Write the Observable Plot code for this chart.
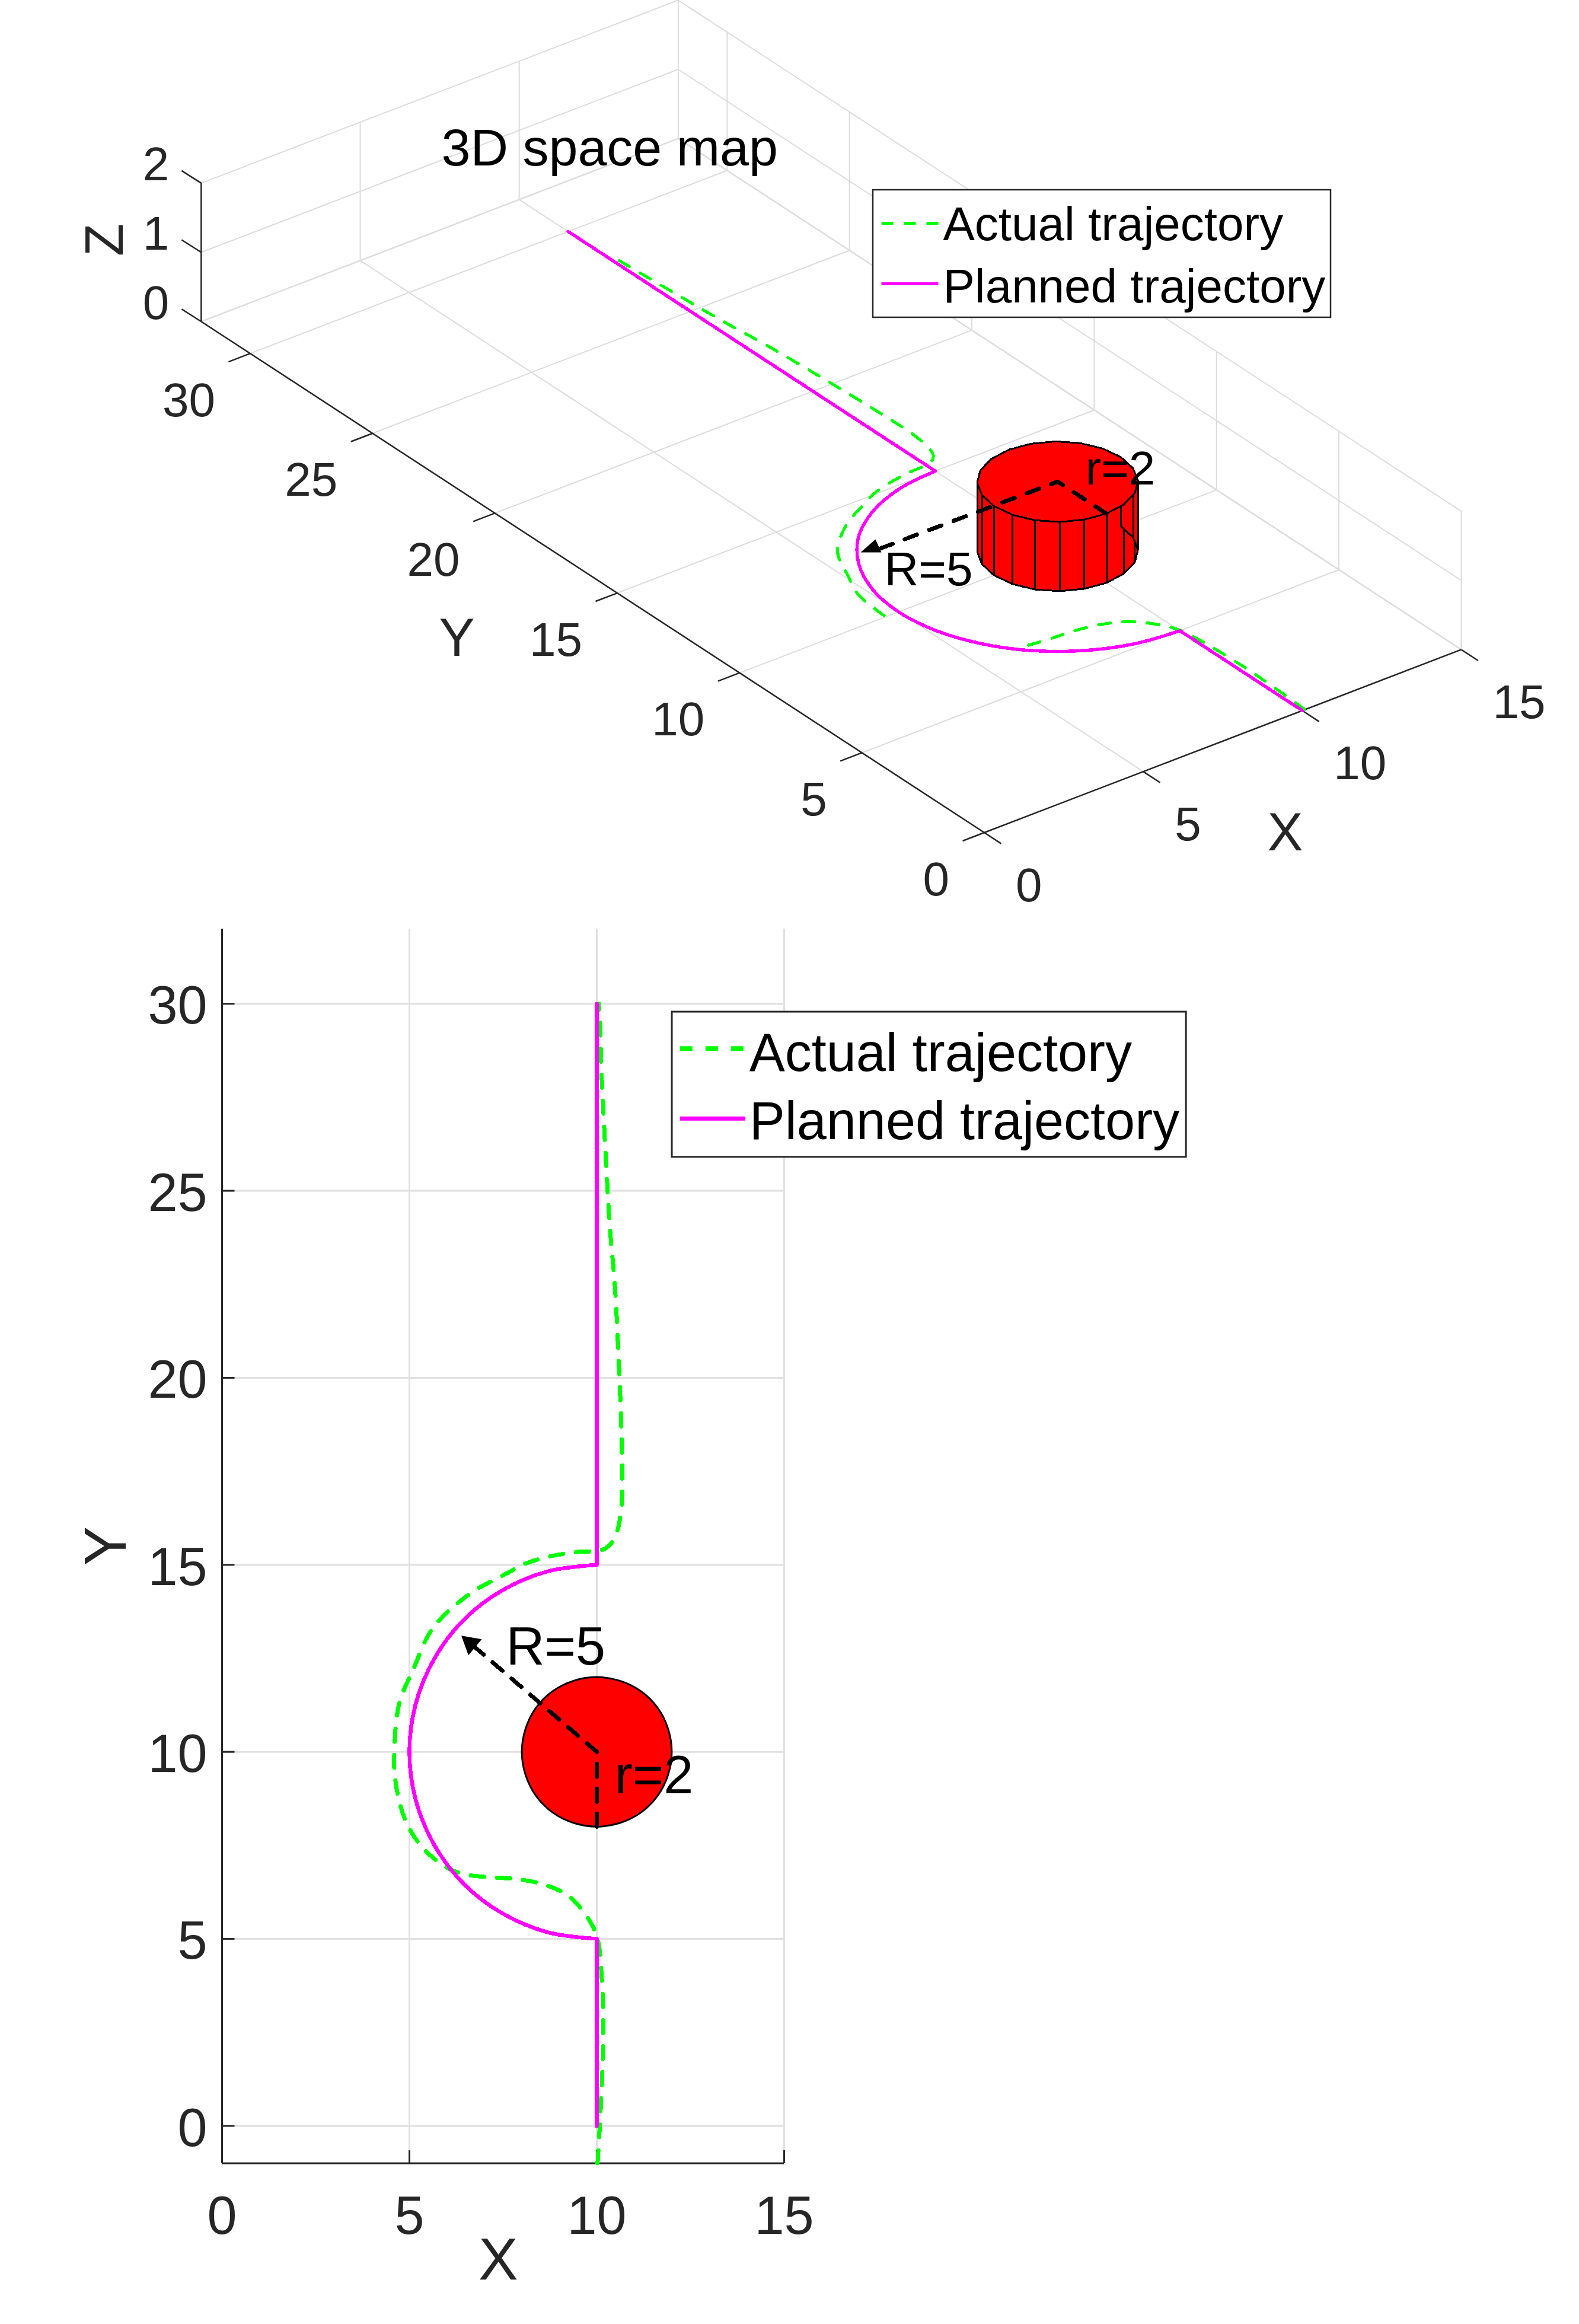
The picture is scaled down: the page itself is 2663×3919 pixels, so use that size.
<!DOCTYPE html>
<html><head><meta charset="utf-8">
<script src="https://cdn.jsdelivr.net/npm/d3@7"></script>
<script src="https://cdn.jsdelivr.net/npm/@observablehq/plot@0.6"></script>
<style>html,body{margin:0;padding:0;background:#fff;overflow:hidden}svg{display:block}</style>
</head><body><div id="chart3d"></div><div id="chart2d"></div>
<script>
const FONT = "Liberation Sans, Arial, sans-serif";
const xTicks = [0,5,10,15], yTicks = [0,5,10,15,20,25,30], zTicks = [0,1,2];
// actual trajectory
const actualX = [10.02,10.08,10.15,10.17,10.13,10.02,9.77,9.24,8.6,7.85,7.1,6.37,5.85,5.3,4.88,4.63,4.6,4.73,5.1,5.62,6.58,7.65,8.09,8.77,9.46,10.17,10.42,10.56,10.66,10.68,10.64,10.57,10.48,10.35,10.25,10.15,10.12,10.08,10.05];
const actualY = [-1,0,1.5,2.7,4,5,5.55,6.15,6.45,6.6,6.65,6.75,7,7.5,8.2,9.2,10.07,11.3,12.2,13.3,14.2,14.8,15.03,15.23,15.34,15.41,15.62,15.95,16.6,17.4,19.1,20.8,22.5,24,25.7,27.65,28.3,29.6,30];
// planned trajectory: upper straight, semicircle R=5, lower straight
const planLineX = [10,10], planUpperY = [30,15], planLowerY = [5,0];
const arcX = [10,8.71,7.5,6.46,5.67,5.17,5,5.17,5.67,6.46,7.5,8.71,10];
const arcY = [15,14.83,14.33,13.54,12.5,11.29,10,8.71,7.5,6.46,5.67,5.17,5];
// obstacle: 20-facet cylinder r=2 around (10,10), height 1
const cylX = [12,11.9,11.62,11.18,10.62,10,9.38,8.82,8.38,8.1,8,8.1,8.38,8.82,9.38,10,10.62,11.18,11.62,11.9];
const cylY = [10,10.62,11.18,11.62,11.9,12,11.9,11.62,11.18,10.62,10,9.38,8.82,8.38,8.1,8,8.1,8.38,8.82,9.38];
const legendNames = ["Actual trajectory","Planned trajectory"];
const GREEN="#00ff00", MAGENTA="#ff00ff", AXIS="#262626", CRISP="crispEdges";

const pts = (xs,ys,s)=>xs.map((x,i)=>({X:x,Y:ys[i],s}));
const actual = pts(actualX,actualY,"a");
const planned = [...pts(planLineX,planUpperY,"u"),...pts(arcX,arcY,"c"),...pts(planLineX,planLowerY,"l")];
const cyl = cylX.map((x,i)=>({X:x,Y:cylY[i]}));

// ---------- 3D view ----------
const H1 = 1530;
const px = (X,Y)=>1659.5+53.63*X-41.27*Y;
const py = (X,Y,Z=0)=>1403.5-20.57*X-26.93*Y-116.7*Z;
const xp = d=>px(d.X,d.Y), yp = d=>py(d.X,d.Y,d.Z||0);
const XMAX=15, YMAX=32, ZMAX=2;
const seg=(a,b)=>({x1:px(a[0],a[1]),y1:py(...a),x2:px(b[0],b[1]),y2:py(...b)});
const grid3=[];
for(const x of xTicks){ grid3.push(seg([x,0,0],[x,YMAX,0]), seg([x,YMAX,0],[x,YMAX,ZMAX])); }
for(const y of yTicks){ grid3.push(seg([0,y,0],[XMAX,y,0]), seg([XMAX,y,0],[XMAX,y,ZMAX])); }
grid3.push(seg([0,YMAX,0],[XMAX,YMAX,0]), seg([XMAX,0,0],[XMAX,YMAX,0]));
for(const z of zTicks){ grid3.push(seg([0,YMAX,z],[XMAX,YMAX,z]), seg([XMAX,YMAX,z],[XMAX,0,z])); }
const axes3=[seg([0,0,0],[XMAX,0,0]),seg([0,0,0],[0,YMAX,0]),seg([0,YMAX,0],[0,YMAX,ZMAX])];
const ticks3=[
 ...xTicks.map(x=>seg([x,0,0],[x,-0.69,0])),
 ...yTicks.map(y=>seg([0,y,0],[-0.68,y,0])),
 ...zTicks.map(z=>({x1:px(0,YMAX),y1:py(0,YMAX,z),x2:px(0,YMAX)-33,y2:py(0,YMAX,z)-21}))
];
const facets = cyl.flatMap((d,i)=>{const e=cyl[(i+1)%cyl.length];return [
  {...d,Z:0,f:i},{...e,Z:0,f:i},{...e,Z:1,f:i},{...d,Z:1,f:i},{...d,Z:0,f:i}];});
const cylTop = cyl.map(d=>({...d,Z:1}));
// the 3D view shows the actual trajectory only where it is not hidden by the planned one
const actual3d = actual.filter(d=>d.Y>=0 && d.Y<=28.5 && !(d.Y>6.8 && d.Y<10)).map(d=>({...d,s:d.Y<=6.8?"low":"up"}));
const tickOpts={fontFamily:FONT,fontSize:80,fill:AXIS};
const blackText={fontFamily:FONT,fontSize:80,fill:"#000",textAnchor:"start"};

const chart3d = Plot.plot({
  width:2663,height:H1,margin:0,
  style:{background:"#fff",fontFamily:FONT,overflow:"visible"},
  x:{domain:[0,2663],range:[0,2663],axis:null},
  y:{domain:[0,H1],range:[0,H1],axis:null},
  marks:[
    Plot.link(grid3,{x1:"x1",y1:"y1",x2:"x2",y2:"y2",stroke:"#dcdcdc",strokeWidth:2}),
    Plot.link(axes3,{x1:"x1",y1:"y1",x2:"x2",y2:"y2",stroke:AXIS,strokeWidth:2.5}),
    Plot.link(ticks3,{x1:"x1",y1:"y1",x2:"x2",y2:"y2",stroke:AXIS,strokeWidth:2.5}),
    Plot.text(xTicks,{x:d=>px(d,0),y:d=>py(d,0),text:d=>String(d),dx:53,dy:90,textAnchor:"start",...tickOpts}),
    Plot.text(yTicks,{x:d=>px(0,d),y:d=>py(0,d),text:d=>String(d),dx:-59,dy:80,textAnchor:"end",...tickOpts}),
    Plot.text(zTicks,{x:()=>px(0,YMAX),y:d=>py(0,YMAX,d),text:d=>String(d),dx:-54,dy:-30,textAnchor:"end",...tickOpts}),
    Plot.text(["X"],{x:()=>2167,y:()=>1405,text:d=>d,...tickOpts,fontSize:90}),
    Plot.text(["Y"],{x:()=>770,y:()=>1077,text:d=>d,...tickOpts,fontSize:90}),
    Plot.text(["Z"],{x:()=>178,y:()=>404,text:d=>d,...tickOpts,fontSize:90,rotate:-90}),
    Plot.text(["3D space map"],{x:()=>744,y:()=>250,text:d=>d,...blackText,fontSize:88}),
    // curves
    Plot.line(actual3d,{x:xp,y:yp,z:"s",curve:"catmull-rom",stroke:GREEN,strokeWidth:5,strokeDasharray:"20,21",shapeRendering:CRISP}),
    Plot.line(planned,{x:xp,y:yp,z:"s",curve:"catmull-rom",stroke:MAGENTA,strokeWidth:5.5,shapeRendering:CRISP}),
    // obstacle
    Plot.line(facets,{x:xp,y:yp,z:"f",fill:"#ff0000",stroke:"#000",strokeWidth:3,shapeRendering:CRISP}),
    Plot.line([...cylTop,cylTop[0]],{x:xp,y:yp,fill:"#ff0000",stroke:"#000",strokeWidth:3,shapeRendering:CRISP}),
    // radius annotations
    Plot.line([{X:10,Y:8,Z:1},{X:10,Y:10,Z:1},{X:6.3,Y:12.78,Z:0}],{x:xp,y:yp,stroke:"#000",strokeWidth:7,strokeDasharray:"22,22",shapeRendering:CRISP}),
    Plot.line([[1451,931],[1476,909],[1486,931],[1451,931]],{x:"0",y:"1",fill:"#000",stroke:"none"}),
    Plot.text(["R=5"],{x:()=>1491,y:()=>961,text:d=>d,...blackText}),
    Plot.text(["r=2"],{x:()=>1830,y:()=>791,text:d=>d,...blackText}),
    // legend
    Plot.rect([0],{x1:()=>1472,x2:()=>2244,y1:()=>320,y2:()=>535,fill:"#fff",stroke:"#262626",strokeWidth:2.5}),
    Plot.link([0],{x1:()=>1486,x2:()=>1582,y1:()=>376,y2:()=>376,stroke:GREEN,strokeWidth:5,strokeDasharray:"20,18"}),
    Plot.link([0],{x1:()=>1486,x2:()=>1582,y1:()=>478,y2:()=>478,stroke:MAGENTA,strokeWidth:5}),
    Plot.text(legendNames,{x:()=>1590,y:(d,i)=>[379,484][i],text:d=>d,...blackText})
  ]
});
document.getElementById("chart3d").append(chart3d);

// ---------- 2D view ----------
const H2 = 3919-H1;
const L=374,R=1322,T=1566-H1,B=3647.5-H1;
const dashLine=[{X:10,Y:8},{X:10,Y:10},{X:6.63,Y:12.9}];
const GRID2="#e0e0e0", text2={fontFamily:FONT,fontSize:90,fill:"#000",textAnchor:"start"};
const chart2d = Plot.plot({
  width:2663,height:H2,
  marginLeft:L,marginRight:2663-R,marginTop:T,marginBottom:H2-B,
  style:{background:"#fff",fontFamily:FONT,overflow:"visible"},
  x:{domain:[0,15]},
  y:{domain:[-1,32]},
  marks:[
    Plot.gridX(xTicks,{stroke:GRID2,strokeOpacity:1,strokeWidth:3}),
    Plot.gridY(yTicks,{stroke:GRID2,strokeOpacity:1,strokeWidth:3}),
    Plot.ruleX([0],{stroke:AXIS,strokeWidth:3}),
    Plot.ruleY([-1],{stroke:AXIS,strokeWidth:3}),
    Plot.axisX(xTicks,{anchor:"bottom",tickSize:0,tickPadding:55,fontSize:90,label:null,tickFormat:String,fill:AXIS,fontFamily:FONT}),
    Plot.axisY(yTicks,{anchor:"left",tickSize:0,tickPadding:25,dy:5,fontSize:90,label:null,tickFormat:String,fill:AXIS,fontFamily:FONT}),
    Plot.ruleX(xTicks,{x:d=>d,y1:-1,y2:-0.66,stroke:AXIS,strokeWidth:3}),
    Plot.ruleY(yTicks,{y:d=>d,x1:0,x2:0.34,stroke:AXIS,strokeWidth:3}),
    Plot.text(["X"],{x:()=>7.37,y:()=>-3.6,text:d=>d,fontFamily:FONT,fontSize:100,fill:AXIS}),
    Plot.text(["Y"],{x:()=>-3.07,y:()=>15.5,text:d=>d,fontFamily:FONT,fontSize:100,fill:AXIS,rotate:-90}),
    Plot.line(cyl,{x:"X",y:"Y",curve:"catmull-rom-closed",fill:"#ff0000",stroke:"#000",strokeWidth:3}),
    Plot.line(actual,{x:"X",y:"Y",curve:"catmull-rom",stroke:GREEN,strokeWidth:7,strokeDasharray:"22,22",shapeRendering:CRISP}),
    Plot.line(planned,{x:"X",y:"Y",z:"s",curve:"catmull-rom",stroke:MAGENTA,strokeWidth:6.5,shapeRendering:CRISP}),
    Plot.line(dashLine,{x:"X",y:"Y",stroke:"#000",strokeWidth:7,strokeDasharray:"22,20",shapeRendering:CRISP}),
    Plot.dot([dashLine[2]],{x:"X",y:"Y",symbol:"triangle",r:13,fill:"#000",stroke:"none",rotate:-50}),
    Plot.text(["R=5"],{x:()=>7.58,y:()=>12.79,text:d=>d,...text2}),
    Plot.text(["r=2"],{x:()=>10.48,y:()=>9.35,text:d=>d,...text2}),
    Plot.rect([0],{x1:()=>12.01,x2:()=>25.73,y1:()=>29.78,y2:()=>25.9,fill:"#fff",stroke:"#262626",strokeWidth:3}),
    Plot.link([0],{x1:()=>12.22,x2:()=>13.96,y1:()=>28.8,y2:()=>28.8,stroke:GREEN,strokeWidth:8,strokeDasharray:"21,22"}),
    Plot.link([0],{x1:()=>12.22,x2:()=>13.96,y1:()=>26.93,y2:()=>26.93,stroke:MAGENTA,strokeWidth:7}),
    Plot.text(legendNames,{x:()=>14.07,y:(d,i)=>[28.66,26.84][i],text:d=>d,...text2})
  ]
});
document.getElementById("chart2d").append(chart2d);
</script></body></html>
